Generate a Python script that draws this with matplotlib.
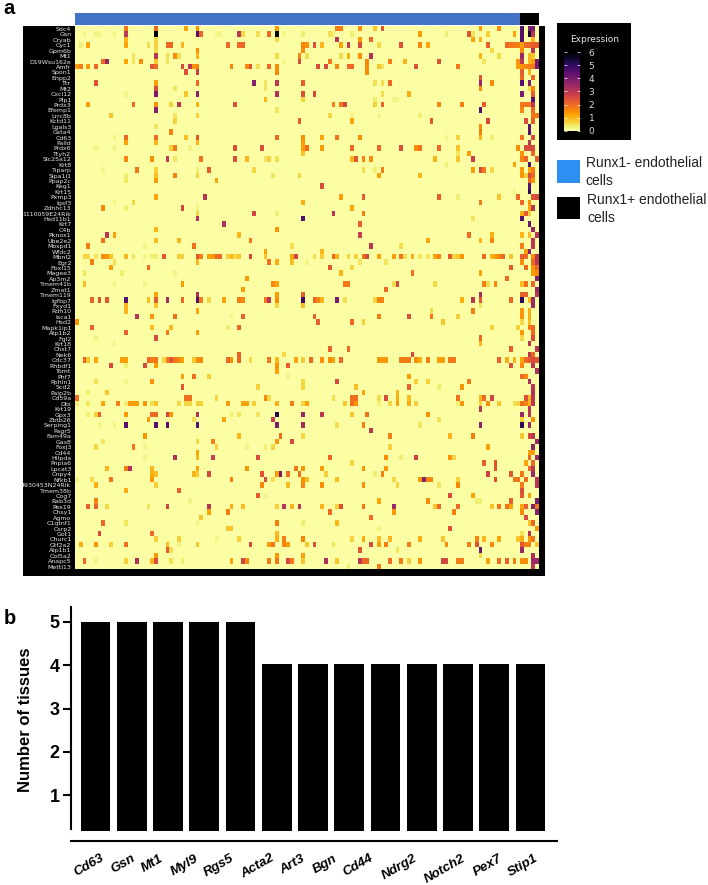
import numpy as np
import matplotlib
matplotlib.use('Agg')
import matplotlib.pyplot as plt
from matplotlib.patches import Rectangle

genes = ["Sdc4","Gsn","Cryab","Cyc1","Gpm6b","Mt1","D19Wsu162e","Amfr","Spon1","Enpp2","Ttr","Mt2","Cxcl12","Plp1","Prdx3","Efemp1","Lrrc8b","Kctd11","Lgals3","Gsta4",
"Cd63","Palld","Prdx6","Ttyh2","Slc25a12","Krt8","Tiparp","Sipa1l1","Ppap2c","Keg1","Krt15","Pxmp3","Igsf3","Zdhhc13","1110059E24Rik","Hsd11b1","Krt7","C4b","Pknox1","Ube2e2",
"Mospd1","Wfdc2","Mbnl2","Egr2","Fbxl15","Magee3","Ap3m2","Tmem41b","Zmat1","Tmem119","Igfbp7","Fxyd1","Rdh10","Isca1","Hsd2","Mapk1ip1","Atp1b2","Fgl2","Krt18","Chst7",
"Nek6","Cdc37","Rhbdf1","Tomt","Phf7","Pphln1","Scd2","Paip2b","Cd59a","Dbi","Krt19","Gpx3","Zbtb26","Serping1","Pagr5","Fam49a","Gas8","Foxj3","Cd44","Hilpda",
"Pnpla6","Lpcat3","Cnpy4","Nfkb1","4930453N24Rik","Tmem38b","Cog7","Rab3d","Pex19","Chsy1","Agmo","C1qtnf1","Csrp2","Got1","Churc1","Gtf2a2","Atp1b1","Col5a2","Anapc5","Mettl13"]

# (column, expression) of the visible cells of each gene
row00=[(13,1.8),(21,2),(29,1.2),(32,1.4),(53,1.3),(69,1.7),(70,1.7),(75,1.5),(79,.8),(81,2.3),(107,1.3),(112,1.5),(118,4.5),(120,4),(121,4)]
row01=[(2,.2),(5,.2),(6,.2),(10,.2),(13,3),(21,6),(32,4.5),(33,2),(37,.2),(38,.2),(43,3),(44,.6),(48,.5),(51,2),(53,6),(55,.2),(60,.3),(67,.5),(68,.3),(73,.3),(91,1.3),(98,.3),(104,2.3),(105,.4),(109,.7),(116,1.2),(118,4.5),(120,5.5),(121,3)]
row02=[(13,1),(21,.6),(53,.6),(69,3),(75,1.3),(78,2),(105,1.2),(107,1),(118,4.5),(121,1)]
row03=[(1,.3),(3,1.2),(13,1.2),(19,.5),(21,.7),(24,2),(25,2),(28,1),(40,2),(43,2),(44,2),(60,1.6),(61,1.5),(63,2.4),(65,1),(70,1.2),(72,2.8),(75,2.6),(80,.6),(86,2.4),(91,1.6),(93,1.2),(109,2.2),(114,2),(115,1.8),(116,1.8),(117,1.7),(118,1.3),(119,2),(120,2),(121,2.2),(122,2.2)]
row04=[(21,.6),(32,1.5),(60,1.5),(110,.6),(118,1.5),(121,3)]
row05=[(15,.4),(21,3),(24,.5),(26,1.5),(27,.5),(32,1),(53,.6),(59,1.6),(61,.5),(70,.5),(72,1.1),(75,1.5),(78,3.2),(107,1),(112,.6),(118,3.5),(120,1),(121,.8)]
row06=[(7,2),(8,3.5),(13,1.2),(15,.4),(17,1.5),(21,.8),(24,.4),(55,.2),(59,2.5),(67,1.8),(77,1.6),(83,1.7),(87,1),(96,2.4),(108,.4),(117,1.4),(118,3),(120,1),(121,1.3),(122,4)]
row07=[(0,1.3),(1,1.7),(3,1.3),(5,2),(20,2.3),(21,2),(28,2.5),(30,3),(31,1.4),(32,1.6),(41,1.6),(45,1.5),(46,2.3),(48,.5),(51,2),(53,1.5),(64,2.5),(66,2.5),(69,1.5),(72,2),(73,2),(77,1.5),(80,.8),(81,.4),(90,2.3),(101,1.8),(117,1.3),(118,1.4),(119,1.6),(120,1.7),(121,1.8),(122,4)]
row08=[(29,2.4),(32,2.8),(53,1.6),(77,1.5),(118,2.2),(120,1)]
row09=[(107,2.3),(118,2),(121,2)]
row10=[(5,2.4),(21,1.3),(32,2),(47,3.8),(50,.4),(53,3),(60,2.2),(79,.5),(81,.5),(83,2),(107,3.5),(110,1.5),(118,4.5),(120,4)]
row11=[(21,2.5),(26,.4),(50,.4),(107,1.5),(120,.5),(121,1.6)]
row12=[(13,.2),(21,4),(29,.8),(32,3.8),(53,3.2),(60,2.4),(63,2.6),(81,.5),(88,1.1),(118,4),(121,2.2)]
row13=[(50,1),(60,.6),(79,.3),(84,.2),(85,.2),(121,4.5)]
row14=[(3,1.3),(15,2),(21,1.5),(25,.7),(27,3),(32,1),(42,2.4),(68,1.7),(70,1.8),(71,2.6),(79,.7),(81,2.1),(96,1.6),(102,1.7),(108,2.2),(118,1.8),(119,1.8),(120,1.8),(121,3)]
row15=[(21,3.8),(53,.4),(107,4.5),(118,1.6),(121,2)]
row16=[(9,.8),(26,.4),(32,.7),(67,.6),(73,.2),(80,.2),(91,.3),(121,1.8),(122,1.8)]
row17=[(26,.7),(59,2.2),(73,1.2),(94,2.2),(109,2.5),(119,2.5),(121,2.2)]
row18=[(21,.4),(107,1.5),(120,4.5)]
row19=[(25,1.7),(107,1.7),(120,4.5)]
row20=[(10,.2),(13,2),(21,2),(29,.9),(32,2.3),(53,2),(60,1.5),(65,1.2),(69,1.8),(75,1.5),(98,.2),(101,.7),(107,1),(110,.3),(118,1.8),(121,2.5)]
row21=[(13,1.2),(21,1),(32,1),(60,1.3),(120,3)]
row22=[(5,.2),(10,.2),(25,.7),(26,1.8),(30,.2),(42,2.4),(49,2.4),(60,1.3),(61,1.9),(65,1.3),(73,2),(80,2),(86,2.4),(90,1.5),(91,1.8),(96,2),(101,.8),(117,1.5),(119,2.5),(120,2.5),(121,2.5)]
row23=[(60,.8),(101,.4),(104,1.3),(118,1.4),(121,2)]
row24=[(13,1.6),(20,1.5),(24,2.9),(26,.4),(33,1.8),(42,2.4),(45,1),(50,.4),(51,.7),(53,.5),(73,1),(74,2.3),(76,1.6),(78,1.5),(95,1),(101,.8),(105,2.8),(118,1.6),(119,2),(122,2.2)]
row25=[(98,.3),(116,1.2),(120,4.5)]
row26=[(7,.2),(16,1.8),(21,.7),(32,.3),(35,2.2),(47,.6),(76,.5),(79,.3),(81,1.7),(105,1.3),(107,2.5),(108,1.8),(110,.6),(118,1.4),(120,1.2),(121,1.7)]
row27=[(13,.3),(21,.9),(26,1.7),(32,.6),(52,.4),(59,.6),(80,1.2),(91,1),(118,1.4),(119,.7),(120,2.5),(121,2)]
row28=[(13,.4),(21,1.3),(37,1.2),(120,2),(121,1.4)]
row29=[(65,2.5),(120,4.5)]
row30=[(116,.2),(120,5)]
row31=[(21,1.2),(34,3),(70,1.3),(76,2.2),(96,2.2),(101,.3),(112,.8),(117,2),(121,2.4),(122,2.5)]
row32=[(10,.2),(15,.6),(60,1.1),(107,1.8),(118,2),(120,1.4)]
row33=[(7,1.6),(13,.3),(28,2.5),(32,.2),(73,1.2),(120,1.2),(121,3)]
row34=[(32,.6),(47,2.6),(53,.3),(68,3),(76,1.7),(118,1.1),(119,2.2),(120,.7)]
row35=[(32,3.2),(60,4.5),(105,.4),(118,4.5)]
row36=[(39,3.2),(75,2.2),(120,4.2)]
row37=[(21,1),(53,1.4),(121,3.5)]
row38=[(8,3),(10,1.2),(43,1),(75,2.8),(104,2),(110,1.1),(118,1),(120,.9),(122,3)]
row39=[(7,1.9),(21,.9),(27,1),(46,1.8),(93,1.2),(107,1),(110,1.6),(121,3)]
row40=[(3,1.7),(18,.2),(31,1.9),(57,.5),(78,3),(86,.5),(118,1.7),(121,3)]
row41=[(50,1.2),(65,1),(119,1.3),(120,3.8)]
row42=[(2,.6),(3,.6),(5,.4),(7,1.5),(8,1.4),(9,.8),(13,1),(15,.4),(18,.2),(20,.3),(21,.3),(23,2.3),(27,.7),(28,.7),(32,2.3),(33,1.7),(35,1.2),(36,1.4),(37,2),(38,2),(40,.7),(41,1),(42,.6),(43,.8),(46,2.6),(50,.9),(57,1.2),(58,2.6),(63,.5),(65,.7),(68,2),(69,1),(72,.6),(74,.7),(76,1.8),(77,2.6),(80,1.2),(84,1.3),(86,1.8),(87,.5),(89,1.1),(91,.4),(93,.4),(95,1.2),(96,1.6),(99,2.2),(100,.6),(101,.8),(102,1.4),(108,2),(110,1),(111,1.3),(112,1.6),(113,2),(115,.8),(118,2.2),(119,2),(121,1.5),(122,3)]
row43=[(4,1.7),(10,.5),(32,1),(51,1.9),(53,1.1),(57,.9),(61,.2),(75,.4),(82,.4),(118,1.5),(121,2),(122,3)]
row44=[(9,1.3),(19,1.9),(67,2.3),(73,.6),(115,2.2),(119,2),(121,1.4),(122,2)]
row45=[(2,.4),(12,.3),(26,.2),(70,1),(89,1.9),(107,1.2),(121,1.3),(122,1.5)]
row46=[(45,1.3),(114,2),(122,3.8)]
row47=[(2,.9),(10,.2),(18,.2),(28,1.3),(52,1.6),(53,1.2),(71,1.8),(72,1.8),(84,.5),(85,2.6),(95,.6),(108,1.7),(109,.5),(111,1.6),(118,.9),(119,1.9),(121,2)]
row48=[(44,1.3),(82,2),(122,3.5)]
row49=[(21,1.2),(32,3.3),(53,1.3),(60,2.2),(107,3.3),(118,2.1),(119,2.1),(122,3)]
row50=[(4,2.1),(6,2.3),(8,2.3),(13,4.5),(19,.9),(21,2.2),(24,3.3),(28,2),(32,4.5),(33,1.7),(35,.6),(39,1.2),(43,1.7),(44,1.6),(50,1.8),(51,3),(53,1.5),(60,4.8),(63,2),(64,1.6),(65,1),(69,4),(71,.5),(79,.6),(80,1.6),(81,1.6),(102,1.1),(105,3),(107,2.3),(115,2),(118,5),(120,1),(121,3.5)]
row51=[(13,1),(21,.8),(53,.6),(60,.9),(107,.4),(121,3.5)]
row52=[(13,1),(32,1.2),(94,.5),(105,1.7),(118,1.4),(120,1.1)]
row53=[(16,3),(20,1.4),(26,1.9),(41,.2),(44,2.1),(63,2.1),(80,1.7),(88,2.4),(94,1.8),(101,.7),(118,1.4),(120,1.1)]
row54=[(0,1.4),(64,2.1),(73,2),(76,.7),(97,.8),(118,.6),(120,.9)]
row55=[(4,2.1),(20,.9),(25,1),(40,.3),(43,2),(110,.7),(117,.7),(120,1.7),(121,2)]
row56=[(13,2.1),(24,1.8),(32,1.3),(118,1.4),(121,2)]
row57=[(5,.2),(21,2.5),(107,2),(118,.6),(121,2.5)]
row58=[(10,.2),(107,1),(120,3)]
row59=[(67,2.1),(72,2),(115,2.2),(122,3)]
row60=[(43,2.1),(55,.6),(89,2.5),(120,3),(121,2)]
row61=[(2,2),(3,.8),(5,1.2),(12,1.3),(13,1.3),(19,2),(20,1.7),(21,1.8),(23,.6),(24,1.7),(25,2.3),(26,1.8),(27,1.6),(28,1.2),(31,.8),(32,1.4),(33,1.6),(40,2),(41,1.4),(43,2),(46,.6),(51,1.8),(53,1),(58,1.2),(60,.7),(62,2),(65,1.5),(67,1.5),(68,1.2),(70,2),(80,1.4),(81,1.3),(82,1.4),(86,1.7),(87,1.7),(88,1.8),(90,1.5),(91,1.1),(93,1.7),(96,1.3),(97,1.3),(99,1.8),(100,1.8),(112,2.1),(114,1.1),(116,1),(118,1.2),(119,2),(120,2.2),(121,2.5),(122,2.3)]
row62=[(9,2.5),(13,.3),(18,2.5),(21,1.3),(53,1.4),(56,2.2),(115,2.4),(118,1.6),(121,3)]
row63=[(53,1.3),(122,3.2)]
row64=[(28,1.3),(31,1.9),(35,.7),(56,.2),(88,1.3),(118,2),(119,1.6)]
row65=[(5,.5),(13,.2),(20,1.5),(60,.6),(69,2.5),(90,.7),(93,.7),(104,1.8),(120,3.3)]
row66=[(28,2.3),(48,.7),(60,.6),(74,.9),(88,2.1),(96,.3),(102,1.4),(121,3)]
row67=[(3,.3),(8,.8),(76,1.2),(85,1),(121,3.2)]
row68=[(0,1.9),(29,1.9),(30,1.9),(37,.6),(50,1.6),(51,.6),(68,.5),(73,1.9),(74,1.9),(80,.5),(82,2.5),(85,1.1),(88,.9),(101,1.9),(107,1),(108,2),(110,2.6),(119,2.4),(120,1),(121,3)]
row69=[(0,.3),(3,.4),(7,1.2),(11,1.7),(13,.3),(14,1.3),(15,1.3),(16,1.3),(18,1.4),(20,.5),(21,.8),(27,.6),(29,.6),(30,.6),(32,.7),(33,.7),(40,1.3),(44,1.2),(45,1.2),(47,.7),(53,1.1),(57,1.7),(60,.6),(61,1.2),(71,.8),(73,1.9),(74,1.4),(80,.3),(83,.6),(85,1.2),(88,1.1),(90,.7),(101,.3),(102,1.4),(107,.7),(109,1.5),(112,.8),(116,.5),(117,.6),(118,1.9),(119,1.6),(120,1),(121,3)]
row70=[(107,3),(120,3)]
row71=[(3,.3),(5,.7),(6,2.1),(13,1.4),(20,2),(21,2),(24,2.5),(25,1.4),(32,3.2),(41,.3),(43,.4),(48,.4),(53,5.2),(60,3.5),(65,3),(73,.8),(77,1.9),(93,1.5),(118,3.5),(120,3)]
row72=[(19,1.3),(31,.5),(39,1.2),(52,2.8),(96,.5),(118,.7),(121,1.4)]
row73=[(6,.2),(10,.2),(13,4.5),(21,4.5),(24,4.5),(32,4.5),(53,4),(60,3.3),(69,.5),(76,1.7),(91,.4),(107,3.7),(118,5),(120,3.5)]
row74=[(78,3)]
row75=[(18,1.4),(43,1),(54,1.9),(60,.6),(83,1.7),(99,1),(105,1.7),(118,.8),(120,2.5),(121,3)]
row76=[(7,.4),(32,.6),(36,1.7),(53,1.4),(57,2.5),(122,3.5)]
row77=[(5,.6),(15,1.8),(18,.2),(37,.7),(45,.2),(50,.3),(52,.6),(83,.7),(109,1.2),(121,3.7)]
row78=[(32,1.2),(120,1.3),(121,1.3)]
row79=[(18,.2),(26,3.2),(32,1),(36,2.8),(48,2.5),(67,2),(82,1.5),(86,.3),(90,2.7),(99,1.4),(100,.6),(120,2),(122,3.5)]
row80=[(73,.6),(108,2.2),(111,2.3),(119,1.2),(121,2)]
row81=[(8,1),(13,1.7),(14,3.2),(20,1),(32,1.2),(45,1.4),(58,1.8),(60,1.4),(65,1.3),(76,1.4),(82,1.4),(111,2.3),(120,2),(121,3)]
row82=[(20,1.1),(21,.9),(31,1),(32,.7),(35,2.6),(49,2.3),(53,1.3),(54,4),(56,1.9),(59,1.9),(66,.7),(79,.3),(81,1.7),(109,2.7),(115,2.3),(118,1.8),(121,3.5)]
row83=[(0,.2),(4,.5),(9,1.8),(20,1.4),(41,1.7),(50,2.5),(52,.5),(60,1.4),(61,.9),(69,.9),(84,.6),(91,1.4),(92,3.8),(93,1.6),(94,1.6),(101,.7),(111,2.4),(116,1.8),(117,1.8),(119,1.9),(122,3)]
row84=[(5,1.1),(21,.7),(49,1.6),(56,.9),(60,1.6),(65,1.5),(76,1.5),(85,.6),(96,.4),(101,1.6),(118,1.8),(122,3)]
row85=[(13,1.1),(27,2.1),(118,2.5)]
row86=[(48,2.2),(50,.2),(99,2.5),(105,1.2),(118,2.3),(120,1.2)]
row87=[(5,1.7),(30,.2),(80,1.2),(93,1.5),(106,.3),(107,.3),(115,2.1),(122,4)]
row88=[(3,2.1),(5,2.1),(8,.6),(19,.4),(24,2.6),(35,3),(41,1.1),(44,.9),(53,.7),(55,3),(57,1),(59,3),(65,1),(69,.7),(70,2.4),(76,1.8),(84,3.5),(95,.8),(96,2),(101,2),(110,.8),(112,1.8),(114,1.8),(115,1.2),(118,1.2),(119,2.2),(121,3.8),(122,1.8)]
row89=[(35,1.2),(40,1.7),(67,2),(84,1.4),(100,1.7),(118,1.6),(122,3.8)]
row90=[(33,.8),(78,1.9),(119,2.5)]
row91=[(7,2),(13,.4),(32,.2),(53,1.7),(60,.3),(69,1),(120,.8),(121,2)]
row92=[(40,.8),(41,.8),(80,.2),(99,2.4),(122,1.4)]
row93=[(6,2.5),(20,2),(53,.9),(118,.5),(120,3)]
row94=[(21,.7),(27,.7),(37,.2),(43,.7),(53,1),(55,1.7),(60,1.6),(73,.7),(76,1.1),(80,.9),(83,1),(91,1.1),(97,.8),(106,1.6),(108,1),(112,1.2),(117,.8),(118,1.1),(120,1.4),(121,1.8)]
row95=[(1,1.1),(5,1.4),(9,.7),(13,1.9),(24,.9),(27,.2),(32,.8),(46,2.5),(51,1.3),(52,1.8),(55,1.6),(56,1.3),(61,.8),(63,2.4),(68,.4),(78,2.5),(80,1.3),(82,1.7),(88,1.7),(98,1.5),(104,1.7),(106,2.4),(110,1.6),(118,2.3),(119,1.7),(120,1.7),(122,.8)]
row96=[(24,2.2),(25,.5),(75,2.3),(85,.4),(107,4.2),(118,3.5)]
row97=[(21,1.4),(53,1.4),(60,1.3),(107,.6),(121,3.2)]
row98=[(2,2),(5,.2),(13,.7),(16,3.2),(20,1),(21,2.5),(25,.5),(28,.3),(41,1.2),(44,2.6),(45,1.6),(51,1.7),(53,1.8),(56,2.5),(57,1.8),(60,.8),(66,3.2),(69,.8),(75,3),(76,2),(77,2),(83,1.9),(86,1.7),(88,.7),(91,1.4),(97,2.6),(98,2.6),(101,1.7),(102,1.7),(109,1.2),(112,1.9),(114,2.1),(116,1.7),(118,1.5),(119,1.5),(121,3.5),(122,3.5)]
row99=[(72,.3),(80,1.7),(121,3)]

cell_rows = [row00,row01,row02,row03,row04,row05,row06,row07,row08,row09,row10,row11,row12,row13,row14,row15,row16,row17,row18,row19,
row20,row21,row22,row23,row24,row25,row26,row27,row28,row29,row30,row31,row32,row33,row34,row35,row36,row37,row38,row39,
row40,row41,row42,row43,row44,row45,row46,row47,row48,row49,row50,row51,row52,row53,row54,row55,row56,row57,row58,row59,
row60,row61,row62,row63,row64,row65,row66,row67,row68,row69,row70,row71,row72,row73,row74,row75,row76,row77,row78,row79,
row80,row81,row82,row83,row84,row85,row86,row87,row88,row89,row90,row91,row92,row93,row94,row95,row96,row97,row98,row99]

n_neg_cells = 118
n_pos_cells = 5
group_labels = ["Runx1- endothelial\ncells", "Runx1+ endothelial\ncells"]
colorbar_ticks = [0, 1, 2, 3, 4, 5, 6]

tissue_genes = ["Cd63","Gsn","Mt1","Myl9","Rgs5","Acta2","Art3","Bgn","Cd44","Ndrg2","Notch2","Pex7","Stip1"]
tissue_counts = [5, 5, 5, 5, 5, 4.03, 4.03, 4.03, 4.03, 4.03, 4.03, 4.03, 4.03]
tissue_ticks = [1, 2, 3, 4, 5]

# label placement in pixels, relative to each bar centre
label_dx = [5, 0, -9, -10, -10, -6, -12, -16, -16, -9, 4, 4, 3.5]

W, H = 708, 885
fig = plt.figure(figsize=(W/100, H/100), dpi=100, facecolor='white')
def ax_px(x0, y0, x1, y1, **kw):
    return fig.add_axes([x0/W, 1-y1/H, (x1-x0)/W, (y1-y0)/H], **kw)
def rect_px(x0, y0, x1, y1, color, z=-1):
    fig.add_artist(Rectangle((x0/W, 1-y1/H), (x1-x0)/W, (y1-y0)/H, transform=fig.transFigure,
                             facecolor=color, edgecolor='none', zorder=z))

SANS = 'Liberation Sans'
n_cols = n_neg_cells + n_pos_cells
expr = np.zeros((len(genes), n_cols))
for i, cells in enumerate(cell_rows):
    for c, v in cells:
        expr[i, c] = v

# black backing of the heatmap
rect_px(22.7, 26, 545, 576, 'black')

ax = ax_px(75.3, 26.3, 539.3, 569.3)
im = ax.imshow(expr, cmap='inferno_r', vmin=0, vmax=6, aspect='auto', interpolation='nearest')
ax.set_xticks([])
ax.set_yticks(range(len(genes)))
ax.set_yticklabels(genes, color='#e8e8e8', fontsize=4.5, family='DejaVu Sans')
ax.tick_params(axis='y', length=0, pad=2.8)
for s in ax.spines.values():
    s.set_visible(False)

# group annotation bar
axt = ax_px(75.3, 13, 539.3, 25)
axt.set_xlim(0, n_cols); axt.set_ylim(0, 1); axt.axis('off')
axt.barh(0.5, n_neg_cells, height=1, left=0, color='#4472C4')
axt.barh(0.5, n_pos_cells, height=1, left=n_neg_cells, color='black')

# colorbar legend
rect_px(557.3, 23.3, 631, 140, 'black')
fig.text(595/W, 1-39/H, 'Expression', color='#e8e8e8', fontsize=6.5, ha='center', va='center', family='DejaVu Sans')
cax = ax_px(564, 52.3, 580, 130.7)
cb = fig.colorbar(im, cax=cax, ticks=colorbar_ticks)
cb.outline.set_visible(False)
cax.tick_params(axis='y', which='both', direction='in', length=2, width=0.5, color='white', left=True, right=True,
                labelcolor='#d8d8d8', labelsize=6.5, pad=6.2)
for t in cax.get_yticklabels():
    t.set_family('DejaVu Sans')

# group legend
rect_px(557.3, 160, 580, 183, '#2E8FF2')
rect_px(557.3, 196.7, 580, 219.3, 'black')
fig.text(585.7/W, 1-172/H, group_labels[0], fontsize=10, family=SANS, color='#222222', ha='left', va='center', linespacing=1.4)
fig.text(587/W, 1-209/H, group_labels[1], fontsize=10, family=SANS, color='#222222', ha='left', va='center', linespacing=1.4)

# panel letters
fig.text(3/W, 1-13.5/H, 'a', fontsize=14.5, fontweight='bold', family=SANS, ha='left', va='baseline')
fig.text(3.5/W, 1-623.5/H, 'b', fontsize=14.5, fontweight='bold', family=SANS, ha='left', va='baseline')

# panel b
axb = ax_px(70.7, 606.7, 557.3, 841.3)
base = 0.184
xpos = np.arange(len(tissue_genes))
axb.bar(xpos, np.array(tissue_counts)-base, bottom=base, width=0.817, color='black', linewidth=0)
axb.set_xlim(-0.684, 12.74)
axb.set_ylim(-0.06, 5.346)
for s in ['top', 'right']:
    axb.spines[s].set_visible(False)
axb.spines['left'].set_linewidth(1.5)
axb.spines['left'].set_bounds(0.23, 5.346)
axb.spines['bottom'].set_linewidth(1.5)
axb.set_xticks([])
axb.set_yticks(tissue_ticks)
axb.set_yticklabels([str(t) for t in tissue_ticks], fontsize=13, fontweight='bold', family=SANS)
axb.tick_params(axis='y', length=6, width=1.5, pad=2)
axb.set_ylabel('Number of tissues', fontsize=12, fontweight='bold', family=SANS)
axb.yaxis.set_label_coords((33-70.7)/(557.3-70.7), (841.3-719.7)/(841.3-606.7))

for i, g in enumerate(tissue_genes):
    axb.annotate(g, xy=(i, 0), xycoords=('data', 'axes fraction'),
                 xytext=(label_dx[i]*0.72, -11*0.72), textcoords='offset points',
                 rotation=30, rotation_mode='anchor', ha='right', va='top',
                 fontsize=9.6, fontweight='bold', fontstyle='italic', family=SANS, annotation_clip=False)

fig.savefig('out.png', dpi=100)
